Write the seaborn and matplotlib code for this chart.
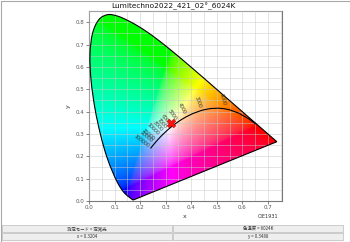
import numpy as np
import pandas as pd
import matplotlib
matplotlib.use("Agg")
import matplotlib.pyplot as plt
import seaborn as sns
from matplotlib.patches import Rectangle, PathPatch
from matplotlib.path import Path

# ---------------- data ----------------
title = "Lumitechno2022_421_02°_6024K"
# CIE 1931 spectral locus (x, y), 380 -> 700 nm
locus_x = [0.1741, 0.1733, 0.1714, 0.1689, 0.1644, 0.1566, 0.1440, 0.1355, 0.1241,
           0.1096, 0.0913, 0.0687, 0.0454, 0.0235, 0.0082, 0.0039, 0.0139, 0.0389,
           0.0743, 0.1142, 0.1547, 0.1929, 0.2296, 0.2658, 0.3016, 0.3373, 0.3731,
           0.4087, 0.4441, 0.4788, 0.5125, 0.5448, 0.5752, 0.6029, 0.6270, 0.6482,
           0.6658, 0.6915, 0.7079, 0.7190, 0.7260, 0.7300, 0.7334, 0.7347]
locus_y = [0.0050, 0.0048, 0.0051, 0.0069, 0.0109, 0.0177, 0.0297, 0.0399, 0.0578,
           0.0868, 0.1327, 0.2007, 0.2950, 0.4127, 0.5384, 0.6548, 0.7502, 0.8120,
           0.8338, 0.8262, 0.8059, 0.7816, 0.7543, 0.7243, 0.6923, 0.6589, 0.6245,
           0.5896, 0.5547, 0.5202, 0.4866, 0.4544, 0.4242, 0.3965, 0.3725, 0.3514,
           0.3340, 0.3083, 0.2920, 0.2809, 0.2740, 0.2700, 0.2666, 0.2653]
# Planckian locus
planck_T = [1000, 1200, 1500, 1800, 2000, 2200, 2500, 2800, 3000, 3500, 4000, 4500,
            5000, 5500, 6000, 6500, 7000, 8000, 9000, 10000, 12000, 15000, 20000,
            30000, 50000, 100000]
planck_x = [0.6528, 0.6251, 0.5857, 0.5496, 0.5267, 0.5056, 0.4770, 0.4520, 0.4369,
            0.4053, 0.3805, 0.3608, 0.3451, 0.3325, 0.3221, 0.3135, 0.3064, 0.2952,
            0.2869, 0.2807, 0.2719, 0.2637, 0.2565, 0.2501, 0.2451, 0.2416]
planck_y = [0.3444, 0.3674, 0.3931, 0.4081, 0.4133, 0.4152, 0.4137, 0.4086, 0.4041,
            0.3907, 0.3768, 0.3636, 0.3516, 0.3411, 0.3318, 0.3237, 0.3166, 0.3048,
            0.2956, 0.2884, 0.2778, 0.2673, 0.2577, 0.2489, 0.2418, 0.2365]
label_T = [2000, 3000, 4000, 5000, 6000, 7000, 8000, 10000, 15000, 20000, 100000]
meas_x = [0.3204]
meas_y = [0.3488]
x_ticks = [0.0, 0.1, 0.2, 0.3, 0.4, 0.5, 0.6, 0.7]
y_ticks = [0.0, 0.1, 0.2, 0.3, 0.4, 0.5, 0.6, 0.7, 0.8]
table_cells = [["測定モード = 定常光", "色温度 = 6024K"],
               ["x = 0.3204", "y = 0.3488"]]

# ---------------- style ----------------
sns.set_theme(style="white")
plt.rcParams["font.family"] = ["DejaVu Sans", "Noto Sans CJK JP"]

W, H = 350, 242
fig = plt.figure(figsize=(W / 100, H / 100), dpi=100)
fig.patch.set_facecolor("white")
ax = fig.add_axes([89 / W, 1 - 201 / H, (282 - 89) / W, (201 - 11) / H])
XMAX, YMAX = 0.755, 0.85
ax.set_xlim(0, XMAX)
ax.set_ylim(0, YMAX)

# smooth outline of the spectral locus (Catmull-Rom drawn as Bezier curves)
pts = np.column_stack([locus_x, locus_y])
verts = [pts[0]]
codes = [Path.MOVETO]
n_pts = len(pts)
for i in range(n_pts - 1):
    p0 = pts[max(i - 1, 0)]
    p1 = pts[i]
    p2 = pts[i + 1]
    p3 = pts[min(i + 2, n_pts - 1)]
    verts += [p1 + (p2 - p0) / 6, p2 - (p3 - p1) / 6, p2]
    codes += [Path.CURVE4] * 3
verts += [pts[0], pts[0]]
codes += [Path.LINETO, Path.CLOSEPOLY]
locus_path = Path(verts, codes)

# chromaticity colour fill
gx = np.linspace(0, XMAX, 500)
gy = np.linspace(0.001, YMAX, 500)
GX, GY = np.meshgrid(gx, gy)
Xc = GX / GY
Yc = np.ones_like(GX)
Zc = (1 - GX - GY) / GY
M = np.array([[3.2406, -1.5372, -0.4986],
              [-0.9689, 1.8758, 0.0415],
              [0.0557, -0.2040, 1.0570]])
rgb = np.einsum("ij,jkl->kli", M, np.stack([Xc, Yc, Zc]))
rgb = np.clip(rgb, 0, None)
rgb = rgb / np.maximum(rgb.max(axis=2, keepdims=True), 1e-9)
rgb = np.clip(rgb, 0, 1) ** 0.5
im = ax.imshow(rgb, origin="lower", extent=[0, XMAX, 0.001, YMAX], aspect="auto",
               interpolation="bilinear", zorder=0.5)
clip_patch = PathPatch(locus_path, facecolor="none", edgecolor="none",
                       transform=ax.transData)
ax.add_patch(clip_patch)
im.set_clip_path(clip_patch)

# grid
ax.set_xticks(x_ticks)
ax.set_yticks(y_ticks)
ax.set_xticks(np.arange(0, XMAX + 1e-9, 0.05), minor=True)
ax.set_yticks(np.arange(0, YMAX + 1e-9, 0.05), minor=True)
ax.grid(which="both", color="#c8c8c8", lw=0.5, alpha=0.7, zorder=1)
ax.set_axisbelow(False)
ax.set_xticklabels([f"{v:.1f}" for v in x_ticks])
ax.set_yticklabels([f"{v:.1f}" for v in y_ticks])
ax.tick_params(which="major", labelsize=4, colors="#555555", length=2, width=0.5,
               pad=1, bottom=True, left=True)
ax.tick_params(which="minor", length=0)
for s in ax.spines.values():
    s.set_color("#7a7a7a")
    s.set_linewidth(0.8)

# spectral locus outline
ax.add_patch(PathPatch(locus_path, facecolor="none", edgecolor="black", lw=0.8,
                       zorder=3))
# planckian locus
sns.lineplot(x=planck_x, y=planck_y, sort=False, estimator=None, color="black",
             lw=0.8, ax=ax, zorder=3)

# temperature labels
fig.canvas.draw()
trans = ax.transData
for T in label_T:
    i = planck_T.index(T)
    i0, i1 = max(i - 1, 0), min(i + 1, len(planck_T) - 1)
    p0 = trans.transform((planck_x[i0], planck_y[i0]))
    p1 = trans.transform((planck_x[i1], planck_y[i1]))
    d = p1 - p0
    d = d / np.hypot(*d)
    nrm = np.array([-d[1], d[0]])
    if nrm[1] < 0:
        nrm = -nrm
    ang = np.degrees(np.arctan2(nrm[1], nrm[0])) - 180
    ang = max(ang, -75)
    pt = trans.transform((planck_x[i], planck_y[i])) + nrm * 3
    px, py = trans.inverted().transform(pt)
    ax.text(px, py, str(T), fontsize=3.4, color="#333333", rotation=ang,
            rotation_mode="anchor", ha="right", va="center", zorder=4)

# measurement marker
sns.scatterplot(x=meas_x, y=meas_y, marker="X", s=40, color="#ff1010",
                edgecolor="#a00000", linewidth=0.3, ax=ax, zorder=5)

ax.set_xlabel("")
ax.set_ylabel("")
fig.text(185 / W, 1 - 217 / H, "x", fontsize=4.5, color="#333333", ha="center", va="center")
fig.text(68 / W, 1 - 106 / H, "y", fontsize=4.5, color="#333333", ha="center", va="center",
         rotation=90)
fig.text(278 / W, 1 - 217 / H, "CIE1931", fontsize=3.6, color="#333333", ha="right",
         va="center")
fig.text(173 / W, 1 - 6 / H, title, fontsize=5.3, color="#111111", ha="center", va="center")

# bottom info table
rows_y = [(225, 232), (233, 240)]
cols_x = [(1.5, 172), (173, 343)]
for r, (y0, y1) in enumerate(rows_y):
    for c, (x0, x1) in enumerate(cols_x):
        fig.patches.append(Rectangle((x0 / W, 1 - y1 / H), (x1 - x0) / W, (y1 - y0) / H,
                                     transform=fig.transFigure, facecolor="#eeeeee",
                                     edgecolor="#c4c4c4", lw=0.6))
        fig.text((x0 + x1) / 2 / W, 1 - (y0 + y1) / 2 / H, table_cells[r][c],
                 fontsize=3.2, color="#333333", ha="center", va="center",
                 family=["Noto Sans CJK JP", "DejaVu Sans"])

# outer frame
fig.patches.append(Rectangle((0.5 / W, 0.5 / H), (W - 1) / W, (H - 1) / H,
                             transform=fig.transFigure, facecolor="none",
                             edgecolor="#a8a8a8", lw=0.8))

fig.savefig("out.png", dpi=100)
